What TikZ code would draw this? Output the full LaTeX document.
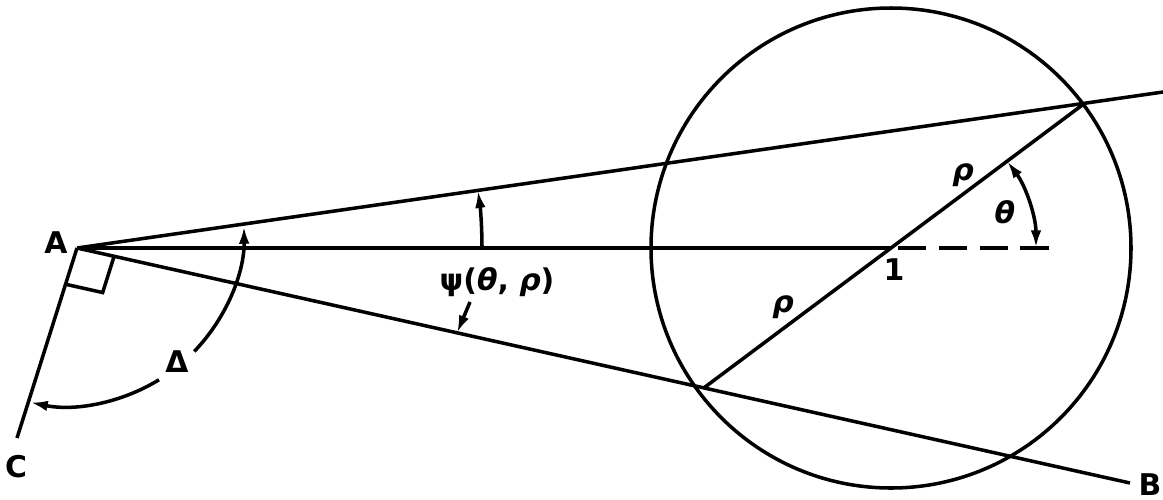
\documentclass[tikz,border=0pt]{standalone}
\usepackage{fontspec}
\setmainfont{DejaVu Sans}
\usetikzlibrary{arrows.meta,calc}
\begin{document}
\begin{tikzpicture}[x=0.01cm,y=0.01cm,
  ln/.style={line width=1pt},
  tip/.style={-{Latex[length=5pt,width=3pt]}},
  lbl/.style={font=\fontsize{8.5}{10}\selectfont\bfseries, inner sep=0pt}]
\useasboundingbox (0,0) rectangle (1163,499);
% key points
\coordinate (A) at (77,251);
\coordinate (O) at (891,251);
\coordinate (P) at (1085,396);
\coordinate (Uend) at (1163,407);
\coordinate (Bend) at (1130,16);
\coordinate (Cend) at (17,61);
\coordinate (Q) at (intersection of P--O and A--Bend);
\coordinate (Dend) at (1052,251);
% lines
\draw[ln] (A) -- (Uend);
\draw[ln] (A) -- (Bend);
\draw[ln] (A) -- (Cend);
\draw[ln] (A) -- (O);
\draw[ln, dash pattern=on 8pt off 3.6pt] ($(O)+(7,0)$) -- (Dend);
\draw[ln] (Q) -- (P);
\draw[ln] (891,251) circle (240);
% right angle box
\draw[ln] ($(A)!0.38cm!(Bend)$) -- ($($(A)!0.38cm!(Bend)$)+($(A)!0.38cm!(Cend)$)-(A)$) -- ($(A)!0.38cm!(Cend)$);
% Delta arc
\draw[ln, tip] ($(66,271)+(-43.9:178)$) arc[start angle=-43.9, end angle=0.6, radius=178];
\draw[ln, tip] ($(66,271)+(-58.5:178)$) arc[start angle=-58.5, end angle=-101.6, radius=178];
% psi arc
\draw[ln, tip] ($(A)+(405,0)$) arc[start angle=0, end angle=8.18, radius=405];
% theta arc
\draw[ln, {Latex[length=5pt,width=3pt]}-{Latex[length=5pt,width=3pt]}] ($(O)+(145,0)$) arc[start angle=0, end angle=36.8, radius=145];
% labels
\node[lbl] (lA) at (56,256) {A};
\node[lbl] (lB) at (1150,14) {B};
\node[lbl] (lC) at (16,32) {C};
\node[lbl] (lDelta) at (177,137) {Δ};
\node[lbl] (lpsi) at (497,217) {ψ(\textit{θ}, \textit{ρ})};
\node[lbl] (ltheta) at (1005,287) {\textit{θ}};
\node[lbl] (lrho1) at (963,324) {\textit{ρ}};
\node[lbl] (lrho2) at (783,192) {\textit{ρ}};
\node[lbl] (lone) at (894,229) {1};
\coordinate (psitip) at (457,166);
\draw[ln, tip] (470,197) -- (psitip);
\end{tikzpicture}
\end{document}
